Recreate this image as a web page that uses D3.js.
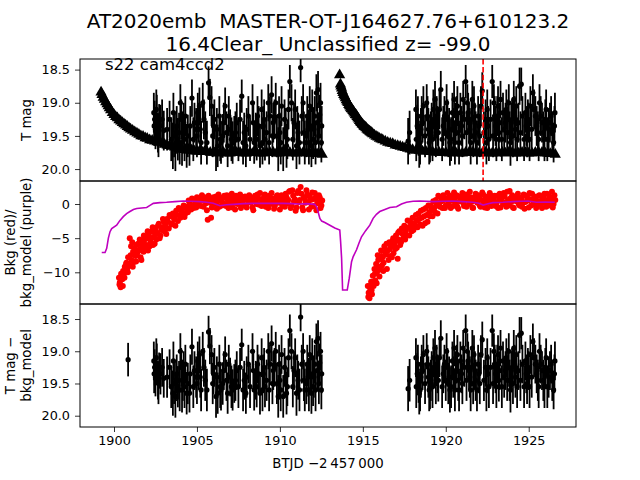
<!DOCTYPE html>
<html><head><meta charset="utf-8">
<script src="https://cdn.jsdelivr.net/npm/d3@7"></script>
<style>body{margin:0;background:#fff} svg text{font-family:"DejaVu Sans",sans-serif;fill:#000}</style>
</head><body><svg id="c" width="640" height="480"></svg>
<script>
// ---------- DATA ----------
const titleLines = ["AT2020emb  MASTER-OT-J164627.76+610123.2", "16.4Clear_ Unclassified z= -99.0"];
const sectorLabel = "s22 cam4ccd2";
const xLabel = "BTJD \u22122\u2009457\u2009000";
const xTicks = [1900, 1905, 1910, 1915, 1920, 1925];
const magTicks = [18.5, 19.0, 19.5, 20.0];
const bkgTicks = [0, -5, -10];
const markerTime = 1922.25;

// upper limits (triangles), top panel
const limT = [1899.22,1899.35,1899.5,1899.65,1899.8,1900.0,1900.2,1900.4,1900.6,1900.8,1901.0,1901.25,1901.5,1901.75,1902.0,1902.3,1902.6,1902.9,1903.2,1903.5,1903.8,1904.1,1904.4,1904.7,1905.0,1905.3,1905.6,1906.0,1906.4,1906.8,1907.2,1907.6,1908.0,1908.4,1908.8,1909.2,1909.6,1910.0,1910.4,1910.8,1911.2,1911.6,1912.0,1912.3,1912.55,
  1913.6,1913.65,1913.72,1913.8,1913.9,1914.0,1914.1,1914.2,1914.3,1914.4,1914.5,1914.6,1914.7,1914.8,1914.9,1915.0,1915.1,1915.2,1915.3,1915.4,1915.5,1915.6,1915.8,1916.0,1916.2,1916.5,1916.8,1917.1,1917.4,1917.7,1918.0,1918.4,1918.8,1919.2,1919.6,1920.0,1920.4,1920.8,1921.2,1921.6,1922.0,1922.4,1922.8,1923.2,1923.6,1924.0,1924.4,1924.8,1925.2,1925.6,1926.0,1926.3,1926.6];
const limMag = [18.84,18.92,18.99,19.05,19.11,19.18,19.23,19.28,19.32,19.36,19.40,19.44,19.48,19.51,19.54,19.57,19.59,19.61,19.64,19.66,19.68,19.70,19.71,19.72,19.73,19.74,19.74,19.75,19.75,19.76,19.75,19.75,19.76,19.75,19.76,19.75,19.75,19.76,19.75,19.76,19.75,19.76,19.76,19.77,19.78,
  18.58,18.72,18.78,18.85,18.90,18.96,19.00,19.05,19.09,19.12,19.16,19.19,19.23,19.27,19.30,19.33,19.36,19.38,19.41,19.43,19.45,19.47,19.51,19.54,19.56,19.60,19.62,19.65,19.67,19.69,19.71,19.72,19.73,19.74,19.75,19.75,19.75,19.76,19.75,19.75,19.76,19.75,19.76,19.75,19.76,19.75,19.76,19.75,19.76,19.75,19.76,19.77,19.78];
const limExtra = [[1899.28,18.88],[1899.42,18.95],[1899.58,19.02],[1899.72,19.08],[1899.9,19.15],[1900.1,19.21],[1900.3,19.26],[1900.5,19.30],[1900.7,19.34],[1900.9,19.38],[1901.12,19.42],[1901.38,19.46],[1901.62,19.50],[1901.88,19.53],[1902.15,19.56],[1902.45,19.58],[1902.75,19.60],[1903.05,19.63],[1903.35,19.65],[1903.65,19.67],[1903.95,19.69],[1904.25,19.71],[1904.55,19.72],[1904.85,19.73],[1905.15,19.73],[1905.45,19.74],[1905.8,19.75],[1906.2,19.76],[1906.6,19.75],[1907.0,19.76],[1907.4,19.75],[1907.8,19.76],[1908.2,19.75],[1908.6,19.75],[1909.0,19.76],[1909.4,19.75],[1909.8,19.76],[1910.2,19.75],[1910.6,19.75],[1911.0,19.76],[1911.4,19.75],[1911.8,19.76],[1912.15,19.76],[1912.45,19.77],
  [1913.68,18.75],[1913.76,18.82],[1913.85,18.88],[1913.95,18.93],[1914.05,18.98],[1914.15,19.03],[1914.25,19.07],[1914.35,19.10],[1914.45,19.14],[1914.55,19.18],[1914.65,19.21],[1914.75,19.25],[1914.85,19.29],[1914.95,19.32],[1915.05,19.35],[1915.15,19.37],[1915.25,19.40],[1915.35,19.42],[1915.45,19.44],[1915.55,19.46],[1915.7,19.49],[1915.9,19.52],[1916.1,19.55],[1916.35,19.58],[1916.65,19.61],[1916.95,19.64],[1917.25,19.66],[1917.55,19.68],[1917.85,19.70],[1918.2,19.72],[1918.6,19.73],[1919.0,19.74],[1919.4,19.75],[1919.8,19.75],[1920.2,19.76],[1920.6,19.75],[1921.0,19.76],[1921.4,19.75],[1921.8,19.75],[1922.2,19.76],[1922.6,19.75],[1923.0,19.76],[1923.4,19.75],[1923.8,19.75],[1924.2,19.76],[1924.6,19.75],[1925.0,19.76],[1925.4,19.75],[1925.8,19.75],[1926.15,19.76],[1926.45,19.77]];

// detections (T mag with errors); also shown as T mag - bkg_model
const detT = [1900.85,
  1902.40,1902.45,1902.50,1902.58,1902.65,1902.72,1902.80,1903.00,1903.35,1903.55,1903.62,1903.70,1903.78,1903.85,1903.92,1904.00,1904.10,1904.20,1904.30,1904.38,1904.45,1904.55,1904.70,1904.85,1904.95,1905.05,1905.15,1905.25,1905.35,1905.50,1905.70,1905.78,1905.88,1906.00,1906.15,1906.25,1906.35,1906.45,1906.55,1906.70,1906.85,1907.00,1907.15,1907.25,1907.40,1907.50,1907.70,1907.85,1907.95,1908.10,1908.35,1908.45,1908.55,1908.65,1908.80,1908.90,1909.00,1909.10,1909.30,1909.40,1909.50,1909.60,1909.75,1909.90,1910.00,1910.10,1910.20,1910.35,1910.45,1910.60,1910.70,1910.85,1911.00,1911.10,1911.25,1911.40,1911.50,1911.60,1911.70,1911.80,1911.90,1912.00,1912.10,1912.20,1912.30,1912.40,1912.50,
  1917.73,1917.82,1918.20,1918.28,1918.36,1918.45,1918.55,1918.65,1918.85,1918.95,1919.05,1919.15,1919.25,1919.35,1919.45,1919.55,1919.70,1919.85,1920.05,1920.15,1920.25,1920.40,1920.50,1920.60,1920.70,1920.80,1920.95,1921.05,1921.20,1921.30,1921.40,1921.50,1921.60,1921.70,1921.80,1921.95,1922.05,1922.20,1922.40,1922.50,1922.60,1922.80,1922.90,1923.00,1923.10,1923.20,1923.30,1923.45,1923.60,1923.70,1923.80,1923.90,1924.00,1924.10,1924.20,1924.30,1924.45,1924.55,1924.80,1924.90,1925.00,1925.10,1925.25,1925.40,1925.55,1925.65,1925.80,1925.95,1926.05,1926.20,1926.35,1926.50,1926.55];
const detMag = [19.13,
  19.15,19.25,19.40,19.20,19.45,19.30,19.35,19.42,19.25,19.65,19.50,19.70,19.35,19.55,19.45,19.00,19.60,19.30,19.20,19.65,19.50,19.65,18.93,19.30,19.40,19.15,19.05,19.60,19.00,19.45,18.70,18.92,19.05,19.35,19.70,19.65,19.20,19.60,19.50,19.05,19.65,19.40,19.60,19.50,19.30,19.55,18.90,19.45,19.65,19.20,19.00,19.60,19.45,19.20,19.65,19.10,19.35,19.55,19.00,19.20,18.88,19.30,19.00,19.70,19.45,19.05,19.70,19.40,19.55,18.68,19.00,19.30,19.65,19.45,18.47,19.00,19.60,19.50,19.40,19.05,19.65,19.55,19.20,18.85,18.80,19.18,19.60,
  19.58,19.45,19.10,19.35,19.50,19.60,19.20,19.05,19.00,19.40,19.55,19.30,19.10,18.95,19.20,19.45,18.80,19.35,19.00,19.50,19.60,19.15,18.95,19.30,19.05,19.60,19.35,18.95,18.68,19.00,19.30,19.60,18.95,19.05,19.45,19.20,19.50,18.82,19.25,19.10,19.55,18.68,19.00,19.35,19.20,19.45,18.95,19.15,19.30,19.45,19.00,19.60,19.25,18.95,19.40,19.55,18.75,18.72,19.15,19.50,19.30,19.05,18.85,19.20,19.45,19.00,19.30,19.55,19.10,19.40,19.20,19.60,19.35];
const detErr = [0.26,
  0.30,0.28,0.30,0.32,0.30,0.28,0.32,0.30,0.28,0.35,0.32,0.33,0.30,0.32,0.30,0.28,0.35,0.30,0.30,0.33,0.32,0.30,0.28,0.30,0.32,0.30,0.28,0.33,0.30,0.32,0.25,0.28,0.30,0.32,0.33,0.32,0.30,0.32,0.33,0.28,0.32,0.30,0.32,0.30,0.30,0.33,0.25,0.30,0.32,0.30,0.28,0.32,0.30,0.30,0.33,0.30,0.30,0.32,0.28,0.30,0.28,0.30,0.30,0.33,0.30,0.30,0.33,0.32,0.30,0.25,0.28,0.30,0.35,0.30,0.22,0.28,0.33,0.32,0.30,0.30,0.32,0.30,0.30,0.28,0.28,0.30,0.30,
  0.35,0.33,0.30,0.32,0.30,0.33,0.30,0.30,0.28,0.32,0.35,0.30,0.30,0.28,0.30,0.33,0.28,0.30,0.28,0.32,0.35,0.30,0.28,0.30,0.30,0.33,0.30,0.28,0.25,0.28,0.30,0.33,0.28,0.30,0.32,0.30,0.32,0.28,0.30,0.30,0.33,0.25,0.28,0.30,0.30,0.33,0.28,0.30,0.30,0.32,0.28,0.35,0.30,0.28,0.32,0.33,0.28,0.25,0.30,0.32,0.30,0.30,0.28,0.30,0.32,0.28,0.30,0.33,0.30,0.32,0.30,0.30,0.30];
// more detections: [time, mag, err]
const detExtra = [[1902.42,19.35,.30],[1902.55,19.10,.30],[1902.68,19.50,.32],[1902.90,19.25,.30],[1903.20,19.40,.32],[1903.45,19.55,.33],[1903.58,19.15,.30],[1903.74,19.45,.32],[1903.96,19.60,.33],[1904.05,19.25,.30],[1904.15,19.45,.32],[1904.25,19.55,.33],[1904.60,19.35,.30],[1904.78,19.55,.33],[1905.00,19.50,.32],[1905.10,19.30,.30],[1905.20,19.40,.32],[1905.42,19.25,.30],[1905.60,19.60,.33],[1905.95,19.50,.32],[1906.05,19.25,.30],[1906.20,19.40,.32],[1906.40,19.55,.33],[1906.62,19.30,.30],[1906.78,19.45,.32],[1906.92,19.20,.30],[1907.08,19.55,.33],[1907.32,19.45,.32],[1907.60,19.25,.30],[1907.78,19.60,.33],[1908.00,19.40,.32],[1908.20,19.55,.33],[1908.40,19.30,.30],[1908.60,19.55,.32],[1908.72,19.35,.30],[1908.95,19.60,.33],[1909.05,19.25,.30],[1909.20,19.45,.32],[1909.35,19.60,.33],[1909.55,19.50,.32],[1909.68,19.25,.30],[1909.82,19.50,.32],[1909.95,19.20,.30],[1910.05,19.60,.33],[1910.28,19.25,.30],[1910.40,19.65,.33],[1910.52,19.10,.30],[1910.78,19.55,.32],[1910.92,19.10,.30],[1911.05,19.35,.30],[1911.18,19.60,.33],[1911.32,19.20,.30],[1911.45,19.45,.32],[1911.65,19.20,.30],[1911.75,19.60,.33],[1911.85,19.35,.30],[1911.95,19.10,.30],[1912.05,19.40,.32],[1912.15,19.60,.33],[1912.25,19.30,.30],[1912.35,19.50,.32],[1912.45,19.00,.30],[1912.52,19.35,.30],
  [1918.22,19.55,.33],[1918.32,19.20,.30],[1918.40,19.65,.33],[1918.50,19.40,.32],[1918.60,19.30,.30],[1918.75,19.50,.32],[1918.90,19.20,.30],[1919.00,19.60,.33],[1919.10,19.45,.32],[1919.20,19.55,.33],[1919.30,19.25,.30],[1919.40,19.50,.32],[1919.50,19.35,.30],[1919.62,19.10,.30],[1919.78,19.55,.33],[1919.92,19.20,.30],[1920.00,19.45,.32],[1920.10,19.25,.30],[1920.20,19.40,.32],[1920.32,19.55,.33],[1920.45,19.40,.32],[1920.55,19.60,.33],[1920.65,19.20,.30],[1920.75,19.45,.32],[1920.88,19.15,.30],[1921.00,19.50,.32],[1921.12,19.25,.30],[1921.25,19.45,.32],[1921.35,19.15,.30],[1921.45,19.40,.32],[1921.55,19.25,.30],[1921.65,19.50,.32],[1921.75,19.30,.30],[1921.88,19.60,.33],[1922.00,19.35,.30],[1922.12,19.05,.30],[1922.30,19.45,.32],[1922.45,19.60,.33],[1922.55,19.35,.30],[1922.70,19.25,.30],[1922.85,19.50,.32],[1922.95,19.20,.30],[1923.05,19.55,.33],[1923.15,19.05,.30],[1923.25,19.30,.30],[1923.38,19.55,.33],[1923.52,19.40,.32],[1923.65,19.10,.30],[1923.75,19.25,.30],[1923.85,19.45,.32],[1923.95,19.30,.30],[1924.05,19.50,.32],[1924.15,19.20,.30],[1924.25,19.05,.30],[1924.38,19.30,.30],[1924.50,19.45,.32],[1924.62,19.20,.30],[1924.72,19.55,.33],[1924.85,19.35,.30],[1924.95,19.25,.30],[1925.05,19.55,.33],[1925.18,19.40,.32],[1925.32,19.10,.30],[1925.48,19.35,.30],[1925.60,19.55,.33],[1925.72,19.20,.30],[1925.88,19.45,.32],[1926.00,19.25,.30],[1926.12,19.55,.33],[1926.28,19.30,.30],[1926.42,19.45,.32],[1926.58,19.15,.30]];

// background flux (red points)
const bkgT = [1900.30,1900.35,1900.40,1900.45,1900.50,1900.55,1900.60,1900.65,1900.70,1900.75,1900.80,1900.85,1900.90,1900.95,1901.00,1901.05,1901.10,1901.15,1901.20,1901.25,1901.30,1901.35,1901.40,1901.50,1901.55,1901.60,1901.70,1901.75,1901.80,1901.90,1902.00,1902.05,1902.10,1902.20,1902.30,1902.35,1902.40,1902.50,1902.55,1902.60,1902.70,1902.80,1902.90,1903.00,1903.05,1903.10,1903.20,1903.30,1903.40,1903.50,1903.55,1903.65,1903.75,1903.85,1903.95,1904.05,1904.15,1904.25,1904.35,1904.45,1904.55,1904.65,1904.75,1904.85,1904.95,1905.05,1905.15,1905.25,1905.35,1905.45,1905.55,1905.65,1905.75,1905.85,1905.95,1906.05,1906.15,1906.25,1906.35,1906.45,1906.55,1906.65,1906.75,1906.85,1906.95,1907.05,1907.15,1907.25,1907.35,1907.45,1907.55,1907.65,1907.75,1907.85,1907.95,1908.05,1908.15,1908.25,1908.35,1908.45,1908.55,1908.65,1908.75,1908.85,1908.95,1909.05,1909.15,1909.25,1909.35,1909.45,1909.55,1909.65,1909.75,1909.85,1909.95,1910.05,1910.15,1910.25,1910.35,1910.45,1910.55,1910.65,1910.75,1910.85,1910.95,1911.05,1911.15,1911.25,1911.35,1911.45,1911.55,1911.65,1911.75,1911.85,1911.95,1912.05,1912.15,1912.25,1912.35,1912.45,1912.55,
  1915.30,1915.35,1915.40,1915.45,1915.50,1915.55,1915.60,1915.65,1915.70,1915.75,1915.80,1915.85,1915.90,1915.95,1916.00,1916.05,1916.10,1916.15,1916.20,1916.25,1916.30,1916.40,1916.45,1916.50,1916.60,1916.65,1916.70,1916.80,1916.85,1916.90,1917.00,1917.05,1917.10,1917.15,1917.20,1917.30,1917.40,1917.50,1917.55,1917.60,1917.70,1917.80,1917.90,1918.00,1918.05,1918.10,1918.20,1918.30,1918.40,1918.50,1918.60,1918.70,1918.80,1918.90,1919.00,1919.10,1919.20,1919.30,1919.40,1919.50,1919.60,1919.70,1919.80,1919.90,1920.00,1920.10,1920.20,1920.30,1920.40,1920.50,1920.60,1920.70,1920.80,1920.90,1921.00,1921.10,1921.20,1921.30,1921.40,1921.50,1921.60,1921.70,1921.80,1921.90,1922.00,1922.10,1922.20,1922.30,1922.40,1922.50,1922.60,1922.70,1922.80,1922.90,1923.00,1923.10,1923.20,1923.30,1923.40,1923.50,1923.60,1923.70,1923.80,1923.90,1924.00,1924.10,1924.20,1924.30,1924.40,1924.50,1924.60,1924.70,1924.80,1924.90,1925.00,1925.10,1925.20,1925.30,1925.40,1925.50,1925.60,1925.70,1925.80,1925.90,1926.00,1926.10,1926.20,1926.30,1926.40,1926.50,1926.60];
const bkgVal = [-10.8,-11.5,-12.2,-10.5,-11.0,-9.8,-10.2,-9.2,-9.8,-8.6,-9.4,-7.8,-8.9,-5.0,-7.5,-8.2,-5.6,-7.0,-8.5,-6.5,-7.6,-6.0,-7.2,-6.8,-5.2,-7.8,-6.2,-5.6,-4.6,-6.4,-5.0,-6.8,-4.4,-5.6,-4.0,-6.0,-4.8,-3.6,-5.2,-4.2,-2.9,-4.6,-3.4,-2.6,-4.0,-3.0,-2.2,-3.6,-1.8,-2.8,-1.4,-2.2,-1.0,-2.5,-0.8,-1.6,-0.6,-1.9,-0.4,-1.2,0.2,-0.8,-0.2,0.6,-0.5,0.3,0.9,-0.3,0.5,1.0,0.1,-2.3,0.6,-2.0,0.8,0.0,1.1,0.4,-0.4,0.9,0.2,1.2,-0.3,0.7,0.1,1.0,-0.5,0.5,1.2,0.0,0.8,-0.6,0.4,1.0,-0.2,0.6,1.3,0.2,-0.5,0.9,0.3,1.4,-0.1,0.7,0.1,1.1,-0.4,0.5,1.2,0.0,0.8,-0.7,0.4,1.3,0.2,0.9,-0.3,0.6,1.5,0.1,1.8,-0.6,2.0,0.4,-1.0,1.6,0.3,2.5,-0.5,1.0,0.2,1.4,-0.8,0.6,1.7,-0.3,0.9,0.1,1.3,-0.6,0.5,
  -12.0,-13.0,-13.8,-12.5,-11.4,-13.2,-10.5,-12.0,-9.5,-11.2,-8.8,-10.0,-7.5,-9.2,-10.6,-8.0,-6.8,-9.0,-7.8,-8.6,-6.2,-7.4,-9.5,-6.8,-5.6,-7.6,-6.2,-5.4,-7.2,-6.0,-4.6,-6.4,-8.0,-5.2,-4.0,-5.6,-4.4,-3.2,-5.2,-3.9,-2.4,-4.6,-3.2,-2.0,-3.8,-2.8,-1.6,-3.4,-2.2,-1.0,-3.2,-1.8,-0.6,-2.6,-1.2,-0.2,-1.8,-0.6,0.6,-1.4,0.2,1.0,-0.6,0.6,-0.2,1.6,0.4,-0.6,0.9,1.7,0.1,-0.4,1.1,0.5,1.6,-0.3,0.8,1.4,0.0,1.0,-0.5,0.6,1.5,0.2,0.9,-0.4,1.7,0.3,1.1,-0.6,0.7,1.3,0.1,0.9,-0.3,1.2,0.5,-0.5,1.0,1.6,0.2,1.8,-0.2,0.8,1.3,-0.6,0.6,1.2,0.0,0.9,-0.4,1.4,0.3,1.0,-0.5,0.7,1.5,0.1,0.9,-0.3,1.2,0.4,-0.6,1.0,0.2,1.5,-0.2,0.8,1.8,0.0,0.6];
// more background samples: [time, value]
const bkgExtra = [[1900.33,-11.8],[1900.43,-10.2],[1900.53,-12.0],[1900.63,-10.8],[1900.73,-8.8],[1900.83,-10.0],[1900.93,-9.0],[1901.03,-6.2],[1901.13,-9.2],[1901.23,-7.4],[1901.33,-8.4],[1901.45,-5.8],[1901.58,-6.6],[1901.65,-8.2],[1901.78,-7.0],[1901.85,-5.2],[1901.95,-6.0],[1902.03,-4.0],[1902.15,-6.2],[1902.25,-5.0],[1902.33,-3.4],[1902.45,-5.8],[1902.53,-4.4],[1902.65,-3.2],[1902.75,-5.0],[1902.85,-3.8],[1902.95,-2.2],[1903.03,-3.4],[1903.15,-4.4],[1903.25,-2.6],[1903.35,-1.6],[1903.45,-3.0],[1903.60,-2.0],[1903.70,-3.2],[1903.80,-1.6],[1903.90,-0.6],[1904.00,-2.0],[1904.10,-1.2],[1904.20,-0.2],[1904.30,-1.4],[1904.40,-0.8],[1904.50,0.5],[1904.60,-0.4],[1904.70,0.8],[1904.80,-0.6],[1904.90,0.3],[1905.00,1.0],[1905.10,-0.2],[1905.20,0.6],[1905.30,1.3],[1905.40,-0.4],[1905.50,0.7],[1905.60,-0.9],[1905.70,1.2],[1905.80,0.2],[1905.90,-0.5],[1906.00,1.0],[1906.10,0.4],[1906.20,-0.7],[1906.30,1.4],[1906.40,0.6],[1906.50,-0.2],[1906.60,0.9],[1906.70,0.0],[1906.80,1.3],[1906.90,-0.6],[1907.00,0.5],[1907.10,1.5],[1907.20,0.2],[1907.30,-0.8],[1907.40,0.9],[1907.50,0.4],[1907.60,1.4],[1907.70,-0.2],[1907.80,0.7],[1907.90,1.1],[1908.00,-0.5],[1908.10,0.3],[1908.20,1.0],[1908.30,0.6],[1908.40,-0.9],[1908.50,1.2],[1908.60,0.0],[1908.70,0.8],[1908.80,1.6],[1908.90,-0.3],[1909.00,0.5],[1909.10,1.4],[1909.20,0.2],[1909.30,-0.6],[1909.40,0.9],[1909.50,1.6],[1909.60,0.3],[1909.70,-0.2],[1909.80,1.1],[1909.90,0.6],[1910.00,-0.8],[1910.10,1.3],[1910.20,0.4],[1910.30,-0.4],[1910.40,1.0],[1910.50,0.6],[1910.60,1.9],[1910.70,-0.2],[1910.80,1.2],[1910.90,0.7],[1911.00,-0.5],[1911.10,1.9],[1911.20,0.6],[1911.30,1.5],[1911.40,-0.9],[1911.50,0.8],[1911.60,2.0],[1911.70,0.3],[1911.80,1.1],[1911.90,-0.4],[1912.00,0.7],[1912.10,1.6],[1912.20,-0.9],[1912.30,0.4],[1912.40,1.0],[1912.50,-0.2],
  [1915.33,-13.6],[1915.43,-12.0],[1915.53,-12.6],[1915.63,-11.4],[1915.73,-10.2],[1915.83,-11.6],[1915.93,-8.2],[1916.03,-9.6],[1916.13,-7.6],[1916.23,-9.8],[1916.35,-7.0],[1916.43,-5.8],[1916.55,-8.2],[1916.63,-6.6],[1916.75,-7.8],[1916.83,-5.0],[1916.95,-6.6],[1917.03,-5.4],[1917.13,-4.2],[1917.25,-6.0],[1917.35,-3.6],[1917.45,-5.0],[1917.65,-4.6],[1917.75,-3.4],[1917.85,-2.6],[1917.95,-4.0],[1918.15,-3.2],[1918.25,-2.4],[1918.35,-1.4],[1918.45,-3.0],[1918.55,-2.0],[1918.65,-0.8],[1918.75,-2.8],[1918.85,-1.6],[1918.95,-0.2],[1919.05,-1.8],[1919.15,-0.8],[1919.25,0.4],[1919.35,-1.2],[1919.45,-0.2],[1919.55,1.2],[1919.65,-0.4],[1919.75,0.4],[1919.85,1.3],[1919.95,-0.6],[1920.05,0.8],[1920.15,0.0],[1920.25,1.2],[1920.35,0.5],[1920.45,-0.3],[1920.55,0.8],[1920.65,1.3],[1920.75,-0.7],[1920.85,0.4],[1920.95,1.0],[1921.05,0.2],[1921.15,1.4],[1921.25,-0.4],[1921.35,0.6],[1921.45,1.8],[1921.55,0.3],[1921.65,-0.6],[1921.75,1.0],[1921.85,0.4],[1921.95,1.3],[1922.05,-0.2],[1922.15,0.6],[1922.25,1.4],[1922.35,-0.5],[1922.45,0.8],[1922.55,0.2],[1922.65,1.6],[1922.75,-0.3],[1922.85,0.5],[1922.95,1.2],[1923.05,0.1],[1923.15,-0.6],[1923.25,1.5],[1923.35,0.7],[1923.45,0.0],[1923.55,1.1],[1923.65,-0.4],[1923.75,0.6],[1923.85,1.9],[1923.95,0.3],[1924.05,-0.5],[1924.15,1.0],[1924.25,0.4],[1924.35,1.5],[1924.45,-0.2],[1924.55,0.8],[1924.65,0.2],[1924.75,-0.7],[1924.85,1.2],[1924.95,0.5],[1925.05,1.6],[1925.15,-0.2],[1925.25,0.6],[1925.35,1.1],[1925.45,-0.6],[1925.55,0.4],[1925.65,1.3],[1925.75,0.0],[1925.85,0.8],[1925.95,1.5],[1926.05,-0.4],[1926.15,0.6],[1926.25,1.1],[1926.35,0.2],[1926.45,-0.5],[1926.55,1.3]];

// background model (purple line)
const modelT = [1899.26,1899.46,1899.56,1899.66,1899.76,1899.86,1900.16,1900.36,1900.56,1900.76,1900.96,1901.17,1901.37,1901.97,1902.17,1902.37,1902.77,1903.17,1903.67,1904.17,1904.67,1905.18,1905.58,1905.98,1906.39,1906.79,1907.20,1907.80,1908.40,1909.30,1910.20,1910.70,1911.20,1911.60,1912.10,1912.21,1912.31,1912.41,1912.52,1912.71,1913.01,1913.31,1913.61,1913.66,1913.72,1913.78,1914.06,1914.18,1914.32,1914.42,1914.62,1914.77,1914.92,1915.17,1915.42,1915.62,1915.82,1916.02,1916.33,1916.63,1917.03,1917.33,1917.63,1918.03,1918.43,1919.24,1919.84,1920.43,1921.03,1921.63,1922.00,1922.25,1922.55,1922.85,1923.45,1924.04,1924.55,1924.96,1925.46,1926.00,1926.57];
const modelVal = [-7.1,-7.1,-6.5,-5.0,-4.05,-3.6,-3.1,-2.4,-1.85,-1.4,-1.1,-0.8,-0.65,-0.5,-0.2,0.1,0.2,0.25,0.35,0.45,0.4,0.35,0.25,0.1,-0.25,-0.1,-0.05,0.05,0.1,0.1,0.1,0.05,0.0,0.05,-0.05,-0.4,-1.2,-2.1,-2.5,-2.7,-3.1,-3.5,-3.8,-5.5,-7.95,-12.6,-12.6,-10.9,-8.45,-7.7,-6.7,-5.7,-4.8,-3.9,-3.1,-2.1,-1.5,-1.1,-0.8,-0.5,-0.4,0.0,0.25,0.4,0.45,0.35,0.4,0.45,0.35,0.25,0.1,-0.15,0.05,0.2,0.25,0.35,0.4,0.45,0.25,0.3,0.25];

// ---------- DRAW ----------
const svg = d3.select("#c");
const L = 80, R = 576;
const P = [[59,181],[181,304],[304,427]];
const x = d3.scaleLinear().domain([1897.95, 1927.85]).range([L, R]);
const yTop = d3.scaleLinear().domain([18.34, 20.18]).range(P[0]);
const yMid = d3.scaleLinear().domain([3.37, -14.64]).range(P[1]);
const yBot = d3.scaleLinear().domain([18.267, 20.175]).range(P[2]);

const defs = svg.append("defs");
P.forEach((p,i)=>{
  defs.append("clipPath").attr("id","cp"+i).append("rect")
    .attr("x",L).attr("y",p[0]).attr("width",R-L).attr("height",p[1]-p[0]);
});

// title
[28, 51].forEach((yy,i)=>{
  svg.append("text").attr("x",328).attr("y",yy).attr("text-anchor","middle")
    .attr("xml:space","preserve").style("white-space","pre")
    .style("font-size","20px").text(titleLines[i]);
});

const lims = limT.map((t,i)=>({t, m:limMag[i]})).concat(limExtra.map(d=>({t:d[0], m:d[1]})));
const det = detT.map((t,i)=>({t, m:detMag[i], e:detErr[i]})).concat(detExtra.map(d=>({t:d[0], m:d[1], e:d[2]})));
const bkg = bkgT.map((t,i)=>({t, v:bkgVal[i]})).concat(bkgExtra.map(d=>({t:d[0], v:d[1]})));

// ---- top panel
const g0 = svg.append("g").attr("clip-path","url(#cp0)");
const tri = d3.symbol().type(d3.symbolTriangle).size(55);
g0.selectAll("path.lim").data(lims).join("path")
  .attr("class","lim").attr("d",tri)
  .attr("transform",d=>`translate(${x(d.t)},${yTop(d.m)})`).attr("fill","#000");
const detTop = det.filter(d=>d.t>1902);
g0.selectAll("line.eb").data(detTop).join("line").attr("class","eb")
  .attr("x1",d=>x(d.t)).attr("x2",d=>x(d.t))
  .attr("y1",d=>yTop(d.m-d.e)).attr("y2",d=>yTop(d.m+d.e))
  .attr("stroke","#000").attr("stroke-width",1.8);
g0.selectAll("circle.pt").data(detTop).join("circle").attr("class","pt")
  .attr("cx",d=>x(d.t)).attr("cy",d=>yTop(d.m)).attr("r",2.6).attr("fill","#000");
g0.append("line").attr("x1",x(markerTime)).attr("x2",x(markerTime))
  .attr("y1",P[0][0]).attr("y2",P[0][1]).attr("stroke","#ff0000")
  .attr("stroke-width",1.6).attr("stroke-dasharray","5.5,2.4");
svg.append("text").attr("x",105).attr("y",70).style("font-size","16.5px").text(sectorLabel);

// ---- middle panel
const g1 = svg.append("g");
g1.selectAll("circle.bk").data(bkg).join("circle")
  .attr("class","bk").attr("cx",d=>x(d.t)).attr("cy",d=>yMid(d.v)).attr("r",3)
  .attr("fill","#ff0000");
const line = d3.line().x(d=>x(d.t)).y(d=>yMid(d.v));
g1.append("path").datum(modelT.map((t,i)=>({t, v:modelVal[i]})))
  .attr("d",line).attr("fill","none").attr("stroke","#bf00bf").attr("stroke-width",1.6)
  .attr("clip-path","url(#cp1)");

// ---- bottom panel
const g2 = svg.append("g").attr("clip-path","url(#cp2)");
g2.selectAll("line.eb").data(det).join("line").attr("class","eb")
  .attr("x1",d=>x(d.t)).attr("x2",d=>x(d.t))
  .attr("y1",d=>yBot(d.m-d.e)).attr("y2",d=>yBot(d.m+d.e))
  .attr("stroke","#000").attr("stroke-width",1.8);
g2.selectAll("circle.pt").data(det).join("circle").attr("class","pt")
  .attr("cx",d=>x(d.t)).attr("cy",d=>yBot(d.m)).attr("r",2.6).attr("fill","#000");

// frames
P.forEach(p=>{
  svg.append("rect").attr("x",L).attr("y",p[0]).attr("width",R-L).attr("height",p[1]-p[0])
    .attr("fill","none").attr("stroke","#000").attr("stroke-width",1);
});

// axes
function styleAxis(g){
  g.select(".domain").remove();
  g.selectAll(".tick line").attr("stroke","#000").attr("stroke-width",0.8);
  g.selectAll(".tick text").attr("font-family","DejaVu Sans").style("font-size","12.8px").attr("fill","#000");
}
svg.append("g").attr("transform",`translate(${L},0)`)
  .call(d3.axisLeft(yTop).tickValues(magTicks).tickFormat(d3.format(".1f")).tickSize(5).tickPadding(5)).call(styleAxis);
svg.append("g").attr("transform",`translate(${L},0)`)
  .call(d3.axisLeft(yMid).tickValues(bkgTicks).tickFormat(d3.format("d")).tickSize(5).tickPadding(5)).call(styleAxis);
svg.append("g").attr("transform",`translate(${L},0)`)
  .call(d3.axisLeft(yBot).tickValues(magTicks).tickFormat(d3.format(".1f")).tickSize(5).tickPadding(5)).call(styleAxis);
svg.append("g").attr("transform",`translate(0,${P[2][1]})`)
  .call(d3.axisBottom(x).tickValues(xTicks).tickFormat(d3.format("d")).tickSize(5).tickPadding(4)).call(styleAxis);

// axis labels
function vlabel(lines, cy){
  const n = lines.length;
  lines.forEach((s,i)=>{
    const bx = 31 - (n-1-i)*16;
    svg.append("text").attr("transform",`translate(${bx},${cy}) rotate(-90)`)
      .attr("text-anchor","middle").style("font-size","13.3px").text(s);
  });
}
vlabel(["T mag"], (P[0][0]+P[0][1])/2);
vlabel(["Bkg (red)/","bkg_model (purple)"], (P[1][0]+P[1][1])/2);
vlabel(["T mag \u2212","bkg_model"], (P[2][0]+P[2][1])/2);
svg.append("text").attr("x",328).attr("y",468).attr("text-anchor","middle")
  .style("font-size","13.3px").text(xLabel);
</script>
</body></html>
